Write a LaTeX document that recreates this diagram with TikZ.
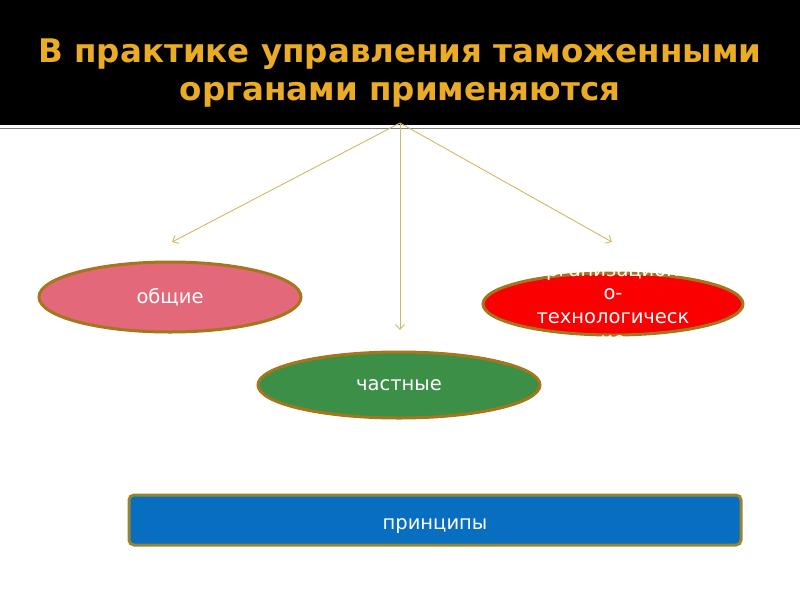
\documentclass[tikz,border=0pt]{standalone}
\usepackage{fontspec}
\setsansfont{DejaVu Sans}
\usetikzlibrary{shapes.geometric,arrows.meta}
\definecolor{gold}{RGB}{234,172,38}
\definecolor{rim}{RGB}{165,118,28}
\definecolor{rimblue}{RGB}{150,132,50}
\definecolor{linkcol}{RGB}{204,188,100}
\definecolor{pinkfill}{RGB}{226,104,122}
\definecolor{redfill}{RGB}{250,0,0}
\definecolor{greenfill}{RGB}{60,143,71}
\definecolor{bluefill}{RGB}{8,110,192}
\begin{document}
\begin{tikzpicture}[x=1pt,y=-1pt,font=\sffamily\fontsize{19.5}{23.5}\selectfont,
	>={Straight Barb[length=5pt,width=9pt]},
	oval/.style={ellipse,draw=rim,line width=3pt,inner sep=0pt,text=white},
	link/.style={->,draw=linkcol,line width=0.9pt}]
	\useasboundingbox (0,0) rectangle (800,600);

	% Header
	\fill[black] (0,0) rectangle (800,125);
	\draw[gray,line width=1.2pt] (0,128.5) -- (800,128.5);
	\node[text=gold,font=\sffamily\bfseries\fontsize{32.5}{38}\selectfont,align=center] (title) at (400,73)
		{В практике управления таможенными\\органами применяются};

	% Ovals
	\node[oval,fill=pinkfill,minimum width=262pt,minimum height=70pt] (general) at (170,297) {общие};
	\node[oval,fill=redfill,minimum width=260pt,minimum height=62pt] (orgtech) at (613,304) {};
	\node[text=white,align=center] (orgtext) at (613,306)
		{организационн\\о-\\технологическ\\ие};
	\node[oval,fill=greenfill,minimum width=282pt,minimum height=66pt] (private) at (399,385) {частные};

	% Principles
	\node[draw=rimblue,line width=3pt,fill=bluefill,rounded corners=5pt,text=white,
		text height=24pt,text depth=5pt,minimum width=612pt,minimum height=50pt] (principles) at (435,520) {принципы};

	% Arrows
	\coordinate (apex) at (400,123);
	\coordinate (tipL) at (172,242);
	\coordinate (tipM) at (400,330);
	\coordinate (tipR) at (612,242);
	\draw[link] (apex) -- (tipL);
	\draw[link] (apex) -- (tipM);
	\draw[link] (apex) -- (tipR);
\end{tikzpicture}
\end{document}
